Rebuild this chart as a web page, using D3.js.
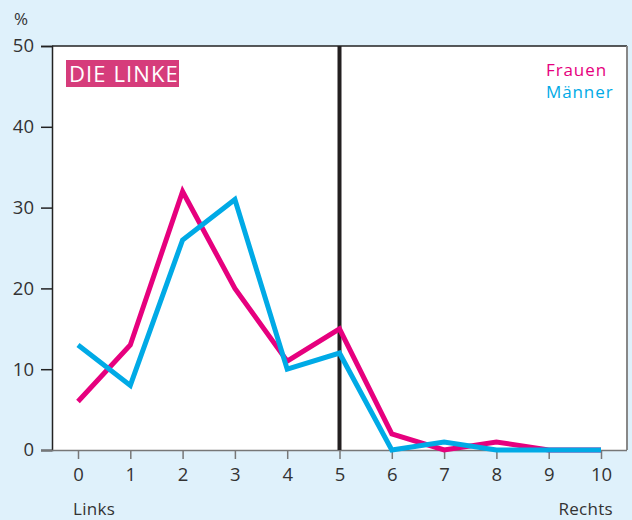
<!DOCTYPE html>
<html><head><meta charset="utf-8">
<script src="https://cdn.jsdelivr.net/npm/d3@7"></script>
<style>
html,body{margin:0;padding:0;background:#dff1fb;}
svg{display:block;font-family:"Open Sans","Noto Sans",sans-serif;}
</style></head>
<body><svg id="c" width="632" height="520"></svg>
<script>
const categories = [0,1,2,3,4,5,6,7,8,9,10];
const frauen = [6,13,32,20,11,15,2,0,1,0,0];
const maenner = [13,8,26,31,10,12,0,1,0,0,0];
const yTicks = [0,10,20,30,40,50];
const seriesNames = ["Frauen","Männer"];

const svg = d3.select("#c");
const L=52, R=627, T=46, B=450;
const x = d3.scaleLinear().domain([0,10]).range([78,601]);
const y = d3.scaleLinear().domain([0,50]).range([B,T]);

svg.append("rect").attr("width",632).attr("height",520).attr("fill","#dff1fb");
svg.append("rect").attr("x",L).attr("y",T).attr("width",R-L).attr("height",B-T).attr("fill","#fff");
svg.append("line").attr("x1",L).attr("x2",R).attr("y1",T).attr("y2",T).attr("stroke","#222").attr("stroke-width",1.5);
svg.append("line").attr("x1",R).attr("x2",R).attr("y1",T).attr("y2",B).attr("stroke","#888").attr("stroke-width",2);

const yAxis = d3.axisLeft(y).tickValues(yTicks).tickSize(11).tickPadding(7);
const gy = svg.append("g").attr("transform",`translate(${L},0)`).call(yAxis);
gy.select(".domain").attr("stroke","#222").attr("stroke-width",1.5);
gy.selectAll(".tick line").attr("stroke","#222").attr("stroke-width",1.5);
gy.selectAll("text").attr("font-size",18.5).attr("fill","#333").attr("font-family","'Open Sans',sans-serif");

const xAxis = d3.axisBottom(x).tickValues(categories).tickSize(9).tickPadding(9).tickFormat(d3.format("d"));
const gx = svg.append("g").attr("transform",`translate(0,${B})`).call(xAxis);
gx.select(".domain").attr("d",`M41,0.5H${R}`).attr("stroke","#777").attr("stroke-width",1.5);
gx.selectAll(".tick line").attr("stroke","#777").attr("stroke-width",1.5);
gx.selectAll("text").attr("font-size",18.5).attr("fill","#333").attr("font-family","'Open Sans',sans-serif");

svg.append("text").attr("x",14).attr("y",25).attr("font-size",17).attr("fill","#333").text("%");
svg.append("text").attr("x",73).attr("y",515).attr("font-size",17).attr("letter-spacing",0.3).attr("fill","#333").text("Links");
svg.append("text").attr("x",613).attr("y",515).attr("text-anchor","end").attr("font-size",17).attr("letter-spacing",0.3).attr("fill","#333").text("Rechts");

svg.append("line").attr("x1",x(5)).attr("x2",x(5)).attr("y1",T).attr("y2",B).attr("stroke","#231f20").attr("stroke-width",4);

const line = d3.line().x((d,i)=>x(categories[i])).y(d=>y(d));
svg.append("path").datum(frauen).attr("d",line).attr("fill","none").attr("stroke","#e6007e").attr("stroke-width",5).attr("stroke-linejoin","miter");
svg.append("path").datum(maenner).attr("d",line).attr("fill","none").attr("stroke","#00aae6").attr("stroke-width",5).attr("stroke-linejoin","miter");

svg.append("rect").attr("x",66).attr("y",60).attr("width",113).attr("height",27).attr("fill","#d63c7b");
svg.append("text").attr("x",69).attr("y",82).attr("font-size",22).attr("letter-spacing",1.1).attr("fill","#fff").text("DIE LINKE");

svg.append("text").attr("x",546).attr("y",76).attr("font-size",17).attr("letter-spacing",0.9).attr("fill","#e6007e").text(seriesNames[0]);
svg.append("text").attr("x",546).attr("y",98).attr("font-size",17).attr("letter-spacing",0.9).attr("fill","#00aae6").text(seriesNames[1]);
</script></body></html>
